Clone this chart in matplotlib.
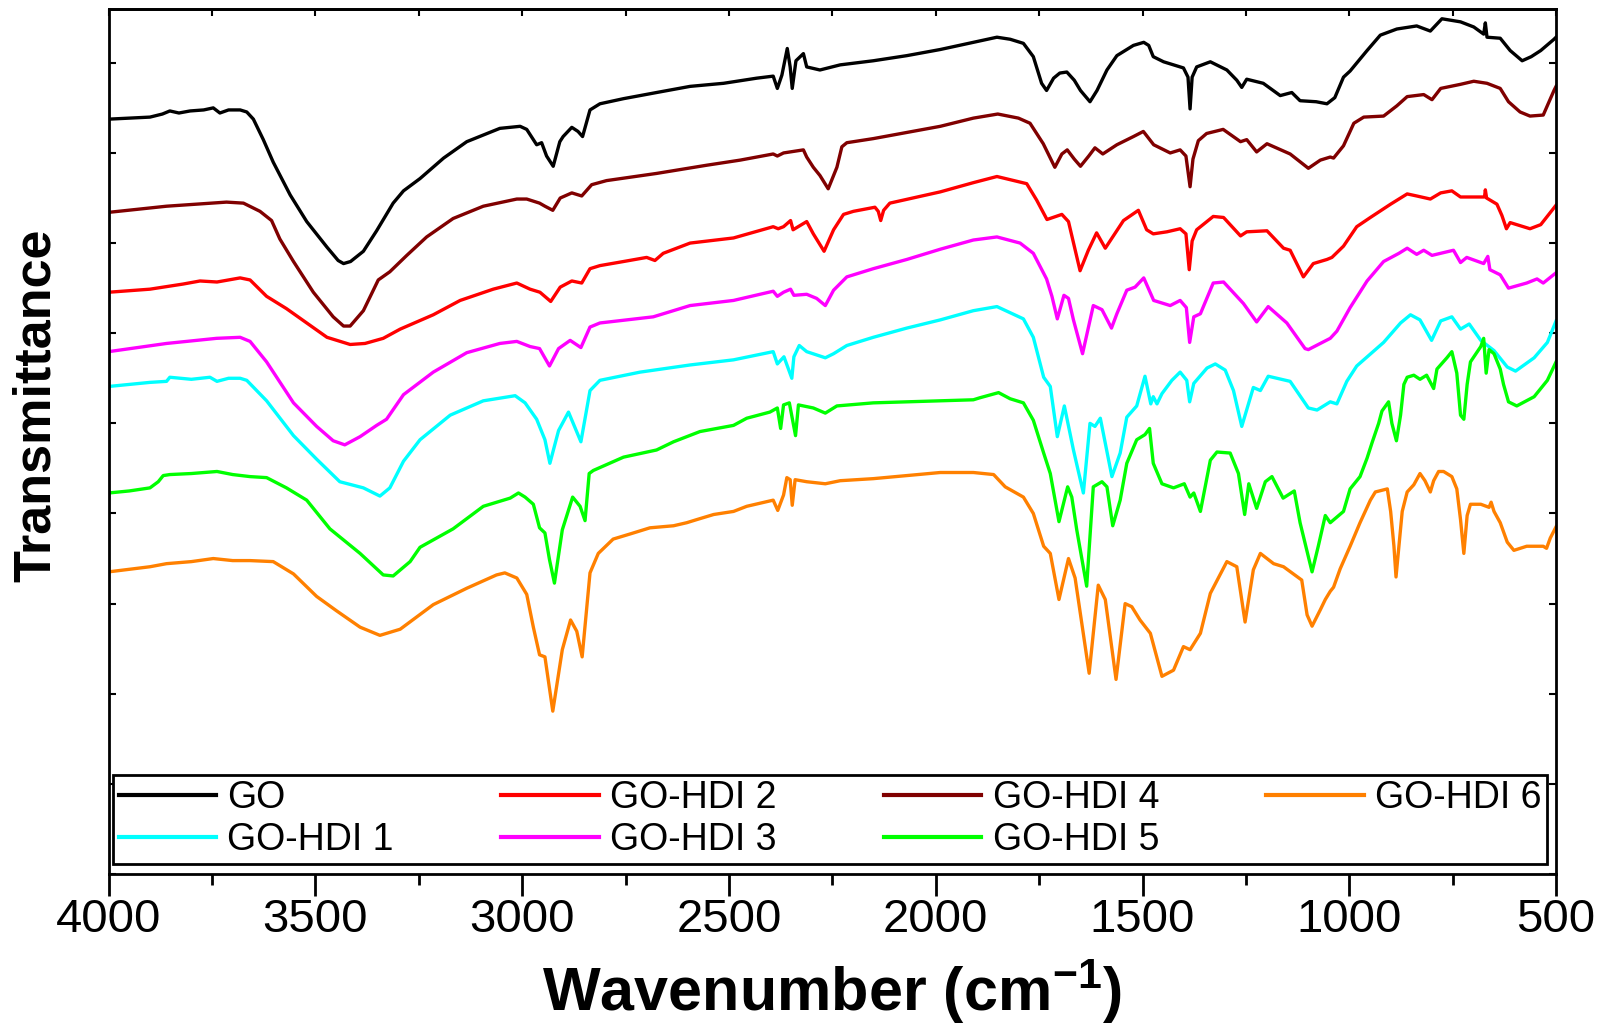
import matplotlib
matplotlib.use("Agg")
import matplotlib.pyplot as plt
from matplotlib import font_manager
from matplotlib.ticker import MultipleLocator
import numpy as np


def has_font(name):
    try:
        font_manager.findfont(font_manager.FontProperties(family=name), fallback_to_default=False)
        return True
    except Exception:
        return False


NARROW = "Liberation Sans Narrow" if has_font("Liberation Sans Narrow") else "Liberation Sans"

# ---------------- data (wavenumber in cm-1, transmittance in arbitrary offset units) -------------
go_wn = [4000, 3950, 3900, 3870, 3852, 3830, 3803, 3770, 3747, 3731, 3710, 3682, 3666, 3650, 3626, 3602,
         3561, 3521, 3472, 3445, 3432, 3415, 3384, 3352, 3312, 3287, 3247, 3190, 3134, 3054, 3005, 2989,
         2965, 2953, 2941, 2925, 2909, 2901, 2880, 2865, 2854, 2836, 2812, 2755, 2675, 2594, 2513, 2433,
         2393, 2383, 2372, 2359, 2352, 2347, 2338, 2320, 2312, 2280, 2231, 2151, 2070, 1989, 1909, 1852,
         1820, 1788, 1764, 1744, 1732, 1715, 1700, 1683, 1665, 1650, 1627, 1610, 1586, 1562, 1522, 1497,
         1485, 1474, 1449, 1401, 1390, 1385, 1380, 1369, 1336, 1296, 1272, 1260, 1248, 1208, 1167, 1139,
         1119, 1080, 1054, 1035, 1014, 998, 957, 925, 885, 837, 804, 776, 731, 699, 675, 671, 667, 635,
         611, 582, 560, 537, 505, 500]
go_t = [737, 738, 739, 742, 745, 743, 745, 746, 748, 743, 746, 746, 744, 737, 717, 695,
        663, 637, 612, 599, 596, 598, 608, 628, 655, 667, 679, 699, 715, 728, 730, 727,
        712, 714, 701, 691, 715, 720, 729, 725, 720, 746, 752, 757, 763, 769, 772, 777,
        779, 767, 780, 806, 788, 767, 794, 801, 788, 785, 790, 794, 799, 805, 812, 817,
        815, 811, 798, 772, 765, 777, 782, 783, 775, 765, 754, 765, 785, 799, 809, 812,
        809, 798, 793, 787, 778, 747, 778, 788, 793, 785, 775, 768, 776, 772, 760, 763,
        755, 754, 752, 758, 778, 784, 804, 819, 825, 828, 823, 835, 832, 827, 820, 831, 817, 816,
        804, 794, 798, 804, 815, 817]

hdi1_wn = [4000, 3900, 3860, 3852, 3800, 3755, 3738, 3710, 3682, 3666, 3642, 3618, 3553, 3497, 3441,
           3384, 3344, 3320, 3287, 3247, 3174, 3094, 3017, 2993, 2965, 2945, 2933, 2912, 2888, 2858,
           2836, 2812, 2715, 2594, 2489, 2393, 2383, 2367, 2348, 2343, 2330, 2312, 2267, 2247, 2215,
           2151, 2070, 1989, 1909, 1852, 1788, 1764, 1739, 1723, 1706, 1689, 1667, 1643, 1627, 1615,
           1602, 1574, 1554, 1538, 1514, 1494, 1480, 1474, 1465, 1453, 1429, 1409, 1393, 1386, 1376,
           1344, 1324, 1300, 1280, 1260, 1232, 1215, 1196, 1143, 1099, 1078, 1046, 1030, 1006, 982,
           917, 876, 852, 829, 801, 779, 752, 731, 710, 682, 650, 618, 598, 553, 521, 500]
hdi1_t = [476, 480, 481, 485, 483, 485, 481, 484, 484, 482, 472, 462, 428, 405, 383,
          377, 369, 377, 403, 424, 448, 462, 467, 460, 444, 424, 401, 433, 451, 422,
          472, 482, 490, 497, 502, 510, 498, 505, 484, 505, 516, 510, 504, 508, 516,
          524, 533, 541, 550, 554, 542, 524, 485, 476, 427, 457, 414, 372, 440, 437,
          445, 388, 411, 446, 457, 486, 459, 466, 459, 469, 482, 490, 482, 461, 479,
          494, 498, 492, 472, 437, 475, 472, 486, 481, 455, 453, 461, 459, 481, 496,
          519, 538, 546, 541, 521, 540, 544, 532, 537, 521, 511, 495, 491, 504, 519, 540]

hdi2_wn = [4000, 3900, 3820, 3779, 3738, 3682, 3658, 3618, 3570, 3521, 3472, 3416, 3380, 3336, 3295,
           3215, 3150, 3070, 3013, 2981, 2957, 2931, 2908, 2880, 2856, 2836, 2812, 2755, 2699, 2679,
           2659, 2594, 2489, 2393, 2381, 2368, 2351, 2345, 2312, 2296, 2270, 2247, 2223, 2199, 2147,
           2139, 2133, 2126, 2111, 1989, 1909, 1852, 1780, 1756, 1731, 1695, 1679, 1651, 1631, 1611,
           1590, 1546, 1510, 1490, 1474, 1441, 1409, 1395, 1387, 1380, 1369, 1329, 1304, 1263, 1248,
           1199, 1159, 1143, 1111, 1087, 1054, 1042, 1014, 982, 949, 900, 860, 837, 804, 779, 752,
           731, 699, 673, 671, 668, 643, 631, 620, 611, 563, 537, 500]
hdi2_t = [568, 571, 576, 579, 578, 582, 580, 564, 552, 538, 524, 517, 518, 523, 532,
          546, 560, 571, 577, 571, 568, 559, 573, 579, 577, 591, 594, 598, 602, 599,
          606, 616, 621, 632, 630, 632, 638, 629, 637, 625, 608, 629, 644, 647, 651,
          647, 638, 648, 655, 666, 675, 681, 674, 658, 639, 644, 637, 589, 609, 626,
          611, 638, 648, 629, 625, 627, 630, 625, 590, 618, 629, 642, 641, 623, 627,
          628, 611, 609, 583, 596, 600, 602, 613, 632, 641, 654, 664, 662, 659, 665, 667,
          661, 661, 661, 668, 660, 654, 643, 630, 636, 630, 634, 653]

hdi3_wn = [4000, 3860, 3739, 3682, 3658, 3618, 3553, 3497, 3457, 3429, 3392, 3352, 3328, 3287, 3215,
           3134, 3054, 3013, 2981, 2958, 2934, 2912, 2884, 2858, 2836, 2812, 2683, 2594, 2489, 2393,
           2383, 2368, 2351, 2343, 2312, 2288, 2267, 2247, 2215, 2151, 2070, 1989, 1909, 1852, 1796,
           1764, 1732, 1719, 1706, 1690, 1679, 1667, 1645, 1619, 1598, 1575, 1562, 1538, 1518, 1497,
           1473, 1433, 1409, 1394, 1386, 1376, 1360, 1329, 1304, 1256, 1224, 1196, 1151, 1107, 1099,
           1046, 1030, 998, 957, 917, 880, 860, 837, 820, 800, 748, 731, 716, 675, 665, 660, 635,
           615, 571, 546, 531, 500]
hdi3_t = [510, 518, 523, 524, 520, 500, 460, 437, 423, 419, 427, 438, 444, 468, 490,
          509, 518, 520, 515, 513, 496, 513, 521, 514, 534, 538, 544, 555, 560, 569,
          564, 568, 571, 565, 566, 562, 555, 570, 583, 591, 600, 610, 619, 622, 616,
          606, 581, 564, 542, 565, 562, 541, 508, 555, 551, 533, 547, 570, 573, 582,
          560, 555, 560, 553, 519, 544, 547, 577, 578, 557, 539, 554, 538, 513, 512,
          523, 530, 553, 579, 598, 606, 611, 605, 609, 604, 609, 597, 602, 596, 603, 590, 585,
          572, 577, 581, 577, 587]

hdi4_wn = [4000, 3860, 3715, 3674, 3634, 3606, 3586, 3553, 3505, 3457, 3432, 3416, 3384, 3348, 3320,
           3279, 3231, 3167, 3094, 3013, 2989, 2958, 2945, 2926, 2908, 2880, 2856, 2832, 2796, 2675,
           2554, 2473, 2393, 2383, 2368, 2320, 2312, 2296, 2280, 2260, 2239, 2227, 2215, 2151, 2070,
           1989, 1909, 1850, 1800, 1772, 1740, 1712, 1695, 1682, 1665, 1650, 1630, 1615, 1596, 1562,
           1522, 1498, 1473, 1433, 1409, 1395, 1385, 1378, 1365, 1345, 1305, 1263, 1248, 1224, 1199,
           1143, 1102, 1099, 1070, 1046, 1038, 1014, 989, 965, 917, 885, 860, 820, 800, 779, 731,
           699, 667, 635, 615, 587, 563, 531, 505, 500]
hdi4_t = [646, 652, 656, 655, 647, 638, 620, 598, 568, 544, 535, 535, 550, 580, 588,
          604, 622, 640, 652, 659, 659, 655, 652, 648, 660, 665, 662, 673, 677, 684,
          692, 697, 703, 701, 704, 707, 700, 690, 682, 669, 690, 710, 714, 718, 724,
          730, 738, 742, 738, 733, 713, 690, 703, 707, 698, 691, 701, 709, 703, 712,
          720, 725, 712, 704, 707, 701, 671, 698, 716, 723, 727, 715, 717, 705, 713,
          703, 690, 689, 697, 700, 699, 711, 733, 739, 740, 750, 759, 761, 756, 767, 771,
          774, 772, 767, 754, 744, 740, 741, 765, 769]

hdi5_wn = [4000, 3950, 3900, 3880, 3868, 3852, 3800, 3738, 3700, 3658, 3618, 3570, 3521, 3465, 3392,
           3336, 3312, 3271, 3247, 3167, 3094, 3029, 3009, 2993, 2973, 2958, 2945, 2934, 2922, 2903,
           2878, 2860, 2848, 2838, 2828, 2755, 2675, 2634, 2570, 2489, 2457, 2401, 2383, 2375, 2368,
           2354, 2339, 2332, 2296, 2267, 2239, 2151, 1909, 1893, 1848, 1820, 1788, 1764, 1739, 1723,
           1702, 1681, 1671, 1659, 1635, 1619, 1598, 1586, 1572, 1554, 1538, 1514, 1494, 1483, 1474,
           1453, 1425, 1399, 1385, 1376, 1360, 1336, 1320, 1288, 1268, 1253, 1243, 1224, 1203, 1187,
           1160, 1133, 1119, 1090, 1075, 1058, 1046, 1014, 998, 974, 957, 945, 929, 921, 905, 897,
           886, 876, 868, 860, 844, 829, 813, 796, 788, 764, 752, 740, 731, 723, 715, 707, 682, 675,
           669, 662, 650, 635, 627, 615, 595, 553, 521, 500]
hdi5_t = [372, 374, 377, 383, 389, 390, 391, 393, 390, 388, 387, 377, 365, 337, 313,
          292, 291, 305, 319, 337, 359, 367, 372, 368, 361, 338, 333, 307, 284, 336,
          368, 359, 345, 391, 394, 407, 414, 422, 432, 438, 445, 451, 455, 435, 458,
          460, 428, 458, 455, 450, 457, 460, 463, 465, 470, 464, 460, 443, 411, 391,
          344, 378, 368, 336, 281, 378, 383, 378, 340, 365, 401, 424, 429, 435, 401,
          381, 377, 381, 368, 372, 354, 404, 412, 411, 391, 351, 381, 357, 383, 388,
          367, 374, 343, 295, 320, 350, 343, 354, 376, 388, 406, 421, 440, 452, 461, 440,
          423, 448, 478, 485, 487, 483, 487, 474, 493, 504, 510, 489, 448, 444, 478, 500, 515, 523,
          489, 512, 508, 493, 478, 461, 457, 466, 482, 500]

hdi6_wn = [4000, 3900, 3860, 3800, 3747, 3700, 3658, 3602, 3553, 3497, 3449, 3392, 3344, 3295, 3215,
           3134, 3062, 3042, 3013, 2989, 2973, 2958, 2945, 2926, 2903, 2883, 2868, 2855, 2836, 2816,
           2780, 2739, 2691, 2634, 2602, 2578, 2537, 2489, 2457, 2393, 2382, 2368, 2360, 2352, 2347,
           2340, 2312, 2267, 2231, 2151, 1989, 1909, 1860, 1832, 1788, 1764, 1739, 1723, 1702, 1679,
           1663, 1629, 1607, 1590, 1564, 1542, 1526, 1506, 1481, 1453, 1425, 1401, 1385, 1360, 1336,
           1296, 1272, 1252, 1232, 1215, 1183, 1159, 1115, 1102, 1090, 1070, 1058, 1046, 1038, 1022,
           998, 974, 949, 937, 908, 900, 892, 887, 880, 872, 860, 844, 829, 817, 804, 796, 784, 772,
           752, 740, 731, 723, 715, 707, 682, 662, 657, 650, 635, 618, 602, 571, 531, 523, 514, 500]
hdi6_t = [295, 300, 303, 305, 308, 306, 306, 305, 293, 271, 257, 241, 233, 239, 263,
          279, 292, 294, 289, 273, 241, 214, 212, 159, 219, 248, 237, 212, 294, 313,
          327, 332, 338, 340, 343, 346, 351, 354, 359, 365, 355, 370, 387, 385, 360,
          385, 383, 381, 384, 386, 392, 392, 390, 378, 368, 352, 320, 313, 268, 308,
          289, 196, 282, 268, 190, 264, 261, 248, 235, 193, 199, 222, 219, 235, 274,
          305, 300, 246, 297, 313, 303, 300, 287, 253, 242, 258, 268, 276, 280, 298,
          320, 343, 365, 373, 376, 354, 320, 290, 320, 354, 373, 380, 391, 384, 373, 384, 393, 393,
          388, 376, 346, 313, 350, 361, 361, 358, 363, 354, 343, 324, 316, 320, 320, 318, 328, 339]

labels = ["GO", "GO-HDI 1", "GO-HDI 2", "GO-HDI 3", "GO-HDI 4", "GO-HDI 5", "GO-HDI 6"]
colors = ["#000000", "#00FFFF", "#FF0000", "#FF00FF", "#800000", "#00FF00", "#FF8000"]
x_ticks = [4000, 3500, 3000, 2500, 2000, 1500, 1000, 500]

series = [(go_wn, go_t), (hdi1_wn, hdi1_t), (hdi2_wn, hdi2_t), (hdi3_wn, hdi3_t),
          (hdi4_wn, hdi4_t), (hdi5_wn, hdi5_t), (hdi6_wn, hdi6_t)]

# ---------------- figure ----------------
plt.rcParams["font.family"] = ["Liberation Sans", "DejaVu Sans"]
plt.rcParams["mathtext.fontset"] = "custom"
plt.rcParams["mathtext.rm"] = "Liberation Sans:bold"
plt.rcParams["mathtext.bf"] = "Liberation Sans:bold"
plt.rcParams["mathtext.default"] = "bf"

fig = plt.figure(figsize=(16.07, 10.28), dpi=100)
ax = fig.add_axes([0.0676, 0.1498, 0.9007, 0.8419])

handles = []
for (wn, t), c, lab in zip(series, colors, labels):
    h, = ax.plot(wn, t, color=c, lw=2.4, label=lab, solid_joinstyle="round")
    handles.append(h)

ax.set_xlim(4000, 500)
ax.set_ylim(0, 845)

for s in ax.spines.values():
    s.set_linewidth(2.0)

ax.set_xticks(x_ticks)
ax.set_xticklabels([str(v) for v in x_ticks], fontfamily=NARROW)
ax.xaxis.set_minor_locator(MultipleLocator(250))
ax.tick_params(axis="x", which="major", direction="out", length=16, width=2.0,
               labelsize=34, pad=1, top=False)
ax.tick_params(axis="x", which="minor", direction="out", length=8, width=2.0, top=False)

ax.set_yticks(np.arange(0, 845, 88))
ax.tick_params(axis="y", which="major", direction="in", length=5, width=1.5,
               labelleft=False, right=True)

sec = ax.secondary_xaxis("top")
sec.set_xticks(np.arange(4000, 499, -250))
sec.tick_params(direction="in", length=5, width=1.5, labeltop=False)
sec.spines["top"].set_linewidth(2.0)

ax.set_xlabel("Wavenumber (cm$^{-1}$)", fontsize=44, fontweight="bold", fontfamily=NARROW)
ax.xaxis.set_label_coords(0.5, -0.096)
ax.set_ylabel("Transmittance", fontsize=37.5, fontweight="bold")
ax.yaxis.set_label_coords(-0.033, 0.542)

leg = ax.legend(handles, labels, ncol=4, loc="lower left",
                bbox_to_anchor=(0.003, 0.012, 0.991, 0.10), mode="expand",
                handlelength=2.6, handletextpad=0.3, labelspacing=0.15,
                borderpad=0.15, borderaxespad=0.0, fancybox=False, framealpha=1.0,
                edgecolor="black", prop={"family": NARROW, "size": 27})
leg.get_frame().set_linewidth(2.0)
for lh in leg.get_lines():
    lh.set_linewidth(3.0)

fig.savefig("out.png", dpi=100)
